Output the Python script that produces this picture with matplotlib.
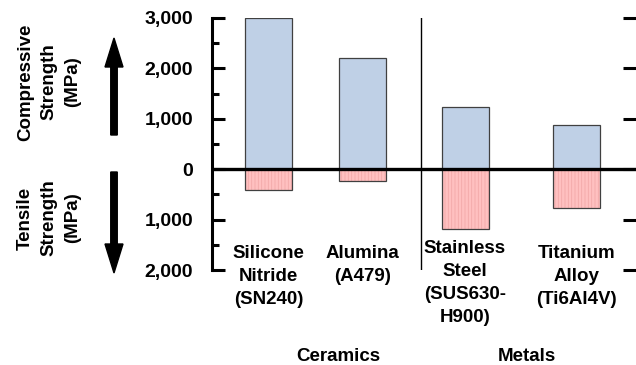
import numpy as np
import matplotlib
matplotlib.use("Agg")
import matplotlib.pyplot as plt
from matplotlib.patches import FancyArrow
from matplotlib.transforms import blended_transform_factory

# data (MPa)
materials = ["Silicone\nNitride\n(SN240)", "Alumina\n(A479)",
             "Stainless\nSteel\n(SUS630-\nH900)", "Titanium\nAlloy\n(Ti6Al4V)"]
compressive = [3000, 2200, 1240, 870]
tensile = [410, 240, 1180, 770]
groups = ["Ceramics", "Metals"]

yticks = [3000, 2000, 1000, 0, -1000, -2000]
yticklabels = ["3,000", "2,000", "1,000", "0", "1,000", "2,000"]

# layout
xpos = [0.0, 0.94, 1.965, 3.08]
group_x = [0.695, 2.585]
divider_x = 1.525
bar_w = 0.47

blue = "#bfd0e6"
pink = "#ffc0c0"
edge = "#404040"

plt.rcParams["font.family"] = ["Liberation Sans", "DejaVu Sans"]
plt.rcParams["font.weight"] = "bold"
plt.rcParams["hatch.linewidth"] = 0.6

fig = plt.figure(figsize=(6.36, 3.65), dpi=100)
ax = fig.add_axes([212 / 636, 1 - 270 / 365, 1 - 212 / 636, 252 / 365])

neg = [-t for t in tensile]
ax.bar(xpos, compressive, width=bar_w, color=blue, linewidth=0, zorder=2)
ax.bar(xpos, neg, width=bar_w, color=pink, edgecolor="#f2a9a9",
       hatch="|||||", linewidth=0, zorder=2)
ax.bar(xpos, compressive, width=bar_w, fill=False, edgecolor=edge, linewidth=0.9, zorder=3)
ax.bar(xpos, neg, width=bar_w, fill=False, edgecolor=edge, linewidth=0.9, zorder=3)

ax.axhline(0, color="black", linewidth=2.4, zorder=4)
ax.plot([divider_x, divider_x], [3000, -2000], color="black", linewidth=1.0, zorder=1)

ax.set_xlim(-0.565, 3.675)
ax.set_ylim(-2000, 3000)
for s in ["top", "bottom", "right"]:
    ax.spines[s].set_visible(False)
ax.spines["left"].set_linewidth(2.2)
ax.set_xticks([])
ax.set_yticks(yticks)
ax.set_yticklabels(yticklabels, fontsize=14, fontweight="bold")
ax.set_yticks(np.arange(-1500, 3000, 1000), minor=True)
ax.tick_params(axis="y", which="major", direction="in", length=9.5, width=2.2, pad=13.5)
ax.tick_params(axis="y", which="minor", direction="in", length=5, width=2.2)
ax.tick_params(axis="y", which="major", right=True)

for x, lab in zip(xpos, materials):
    ytop = -1400 if lab.count("\n") == 3 else -1500
    ax.text(x, ytop, lab, ha="center", va="top", fontsize=13.5,
            fontweight="bold", linespacing=1.46, multialignment="center")

# group names: x in data units, y in figure fraction
tr = blended_transform_factory(ax.transData, fig.transFigure)
for x, g in zip(group_x, groups):
    ax.text(x, 1 - 361 / 365, g, ha="center", va="baseline", fontsize=13.5,
            fontweight="bold", transform=tr, clip_on=False)

# overlay in pixel units for the side labels and arrows
ov = fig.add_axes([0, 0, 1, 1])
ov.set_xlim(0, 636)
ov.set_ylim(365, 0)
ov.axis("off")
ov.text(49, 82, "Compressive\nStrength\n(MPa)", rotation=90, ha="center", va="center",
        fontsize=13.5, fontweight="bold", linespacing=1.5)
ov.text(49, 218, "Tensile\nStrength\n(MPa)", rotation=90, ha="center", va="center",
        fontsize=13.5, fontweight="bold", linespacing=1.5)
ov.add_patch(FancyArrow(114, 135, 0, -97, width=6.5, head_width=18, head_length=29,
                        length_includes_head=True, color="black"))
ov.add_patch(FancyArrow(114, 172, 0, 101, width=6.5, head_width=18, head_length=29,
                        length_includes_head=True, color="black"))

fig.savefig("out.png", dpi=100)
